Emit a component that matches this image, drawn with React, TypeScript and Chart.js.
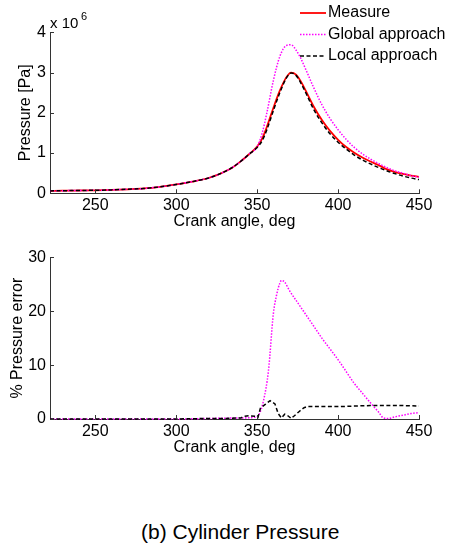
import React, { useEffect, useRef } from "react";
import { Chart, registerables } from "chart.js";

Chart.register(...registerables);

const FONT = "'Liberation Sans', Arial, Helvetica, sans-serif";

// ---------- data (pressure in units of 10^6 Pa) ----------
const angles = [222, 230, 240, 250, 260, 270, 280, 290, 300, 310, 320, 325, 330, 335, 340, 345, 350, 353, 356, 360, 364, 368, 371, 374, 377, 380, 385, 390, 395, 400, 405, 410, 415, 420, 425, 430, 435, 440, 445, 450];
const measure = [0.06, 0.065, 0.07, 0.075, 0.085, 0.1, 0.12, 0.16, 0.22, 0.29, 0.38, 0.45, 0.54, 0.65, 0.8, 0.97, 1.16, 1.35, 1.65, 2.12, 2.55, 2.88, 3.0, 2.95, 2.78, 2.55, 2.15, 1.82, 1.55, 1.33, 1.15, 1.01, 0.89, 0.79, 0.7, 0.6, 0.53, 0.48, 0.44, 0.41];
const globalApproach = [0.06, 0.065, 0.07, 0.075, 0.085, 0.1, 0.12, 0.16, 0.22, 0.29, 0.38, 0.45, 0.54, 0.65, 0.8, 0.97, 1.16, 1.48, 2.0, 2.8, 3.4, 3.67, 3.69, 3.56, 3.35, 3.08, 2.62, 2.2, 1.86, 1.58, 1.34, 1.14, 0.98, 0.85, 0.74, 0.64, 0.56, 0.5, 0.44, 0.4];
const localApproach = [0.06, 0.065, 0.07, 0.075, 0.085, 0.1, 0.12, 0.16, 0.22, 0.29, 0.38, 0.45, 0.54, 0.65, 0.8, 0.97, 1.14, 1.3, 1.58, 2.05, 2.5, 2.86, 2.99, 2.93, 2.74, 2.5, 2.08, 1.75, 1.48, 1.27, 1.1, 0.95, 0.83, 0.73, 0.64, 0.56, 0.49, 0.43, 0.38, 0.34];

const globalErrAngles = [222, 250, 300, 320, 340, 348, 351, 354, 357, 360, 362, 364, 365, 367, 370, 375, 380, 385, 390, 395, 400, 405, 410, 415, 420, 425, 428, 431, 435, 440, 445, 450];
const globalErr = [0, 0, 0, 0.1, 0.2, 0.3, 0.8, 3.5, 9, 19.5, 23, 25.2, 25.7, 25.4, 23.8, 21.6, 19.4, 17.2, 15.0, 13.0, 11.0, 8.8, 6.6, 4.8, 3.0, 1.3, 0.2, 0.1, 0.4, 0.7, 1.0, 1.2];
const localErrAngles = [222, 250, 300, 320, 330, 340, 342, 345, 349, 350.5, 352, 355, 358, 361, 363, 365, 367, 369, 371, 373, 376, 379, 381, 390, 400, 410, 420, 430, 440, 450];
const localErr = [0, 0, 0, 0.1, 0.1, 0.2, 0.5, 0.6, 0.5, 0.3, 2.0, 2.7, 3.4, 2.8, 1.0, 0.2, 0.9, 0.6, 0.1, 0.6, 1.4, 2.1, 2.3, 2.3, 2.3, 2.4, 2.5, 2.5, 2.5, 2.4];

const xTicks = [250, 300, 350, 400, 450];
const pressureTicks = [0, 1, 2, 3, 4];
const errorTicks = [0, 10, 20, 30];
const seriesNames = ["Measure", "Global approach", "Local approach"];
const xTitle = "Crank angle, deg";

const RED = "#ff0000";
const MAGENTA = "#ff00ff";
const BLACK = "#000000";
const AXIS = "#333333";

const pts = (xs: number[], ys: number[]) => xs.map((x, i) => ({ x, y: ys[i] }));

const inwardTicks = {
  id: "inwardTicks",
  afterDatasetsDraw(chart: any) {
    const { ctx, chartArea } = chart;
    const xs = chart.scales.x;
    const ys = chart.scales.y;
    ctx.save();
    ctx.strokeStyle = AXIS;
    ctx.lineWidth = 1;
    ctx.setLineDash([]);
    ctx.beginPath();
    xs.ticks.forEach((t: any) => {
      const px = Math.round(xs.getPixelForValue(t.value)) + 0.5;
      ctx.moveTo(px, chartArea.bottom);
      ctx.lineTo(px, chartArea.bottom - 4);
    });
    ys.ticks.forEach((t: any) => {
      const py = Math.round(ys.getPixelForValue(t.value)) + 0.5;
      ctx.moveTo(chartArea.left, py);
      ctx.lineTo(chartArea.left + 4, py);
    });
    ctx.stroke();
    ctx.restore();
  },
};

const legendAndExponent = {
  id: "legendAndExponent",
  afterDraw(chart: any) {
    const { ctx } = chart;
    ctx.save();
    // exponent label
    ctx.fillStyle = "#000";
    ctx.textBaseline = "alphabetic";
    ctx.textAlign = "left";
    ctx.font = `15px ${FONT}`;
    ctx.fillText("x 10", 50, 28);
    ctx.font = `11px ${FONT}`;
    ctx.fillText("6", 81, 20);
    // legend
    const items = [
      { label: seriesNames[0], color: RED, dash: [] as number[], w: 1.8 },
      { label: seriesNames[1], color: MAGENTA, dash: [1.5, 1.5], w: 1.5 },
      { label: seriesNames[2], color: BLACK, dash: [4, 2.5], w: 1.5 },
    ];
    const ys = [13, 34.5, 56];
    items.forEach((it, i) => {
      ctx.beginPath();
      ctx.setLineDash(it.dash);
      ctx.strokeStyle = it.color;
      ctx.lineWidth = it.w;
      ctx.moveTo(300, ys[i]);
      ctx.lineTo(326, ys[i]);
      ctx.stroke();
      ctx.setLineDash([]);
      ctx.fillStyle = "#000";
      ctx.font = `16px ${FONT}`;
      ctx.textBaseline = "middle";
      ctx.fillText(it.label, 328, ys[i]);
    });
    ctx.restore();
  },
};

function makeOptions(cfg: {
  canvasH: number;
  areaTop: number;
  areaBottom: number;
  yMax: number;
  yTicks: number[];
  yTitle: string;
  yTitlePad: number;
  xTitlePad: number;
}) {
  return {
    responsive: false,
    animation: false as const,
    layout: { padding: { top: cfg.areaTop, right: 30, left: 0, bottom: 0 } },
    plugins: { legend: { display: false }, tooltip: { enabled: false } },
    elements: { point: { radius: 0 } },
    scales: {
      x: {
        type: "linear" as const,
        min: 222,
        max: 450,
        afterBuildTicks: (s: any) => {
          s.ticks = xTicks.map((v) => ({ value: v }));
        },
        afterFit: (s: any) => {
          s.height = cfg.canvasH - cfg.areaBottom;
        },
        grid: { display: false, drawTicks: false, tickLength: 0 },
        border: { display: true, color: AXIS, width: 1 },
        ticks: {
          color: "#000",
          font: { family: FONT, size: 16, lineHeight: 1.2 },
          padding: 3,
          maxRotation: 0,
          autoSkip: false,
          callback: (v: any) => String(v),
        },
        title: {
          display: true,
          text: xTitle,
          color: "#000",
          font: { family: FONT, size: 16, lineHeight: 1.2 },
          padding: { top: 0, bottom: cfg.xTitlePad },
        },
      },
      y: {
        type: "linear" as const,
        min: 0,
        max: cfg.yMax,
        afterBuildTicks: (s: any) => {
          s.ticks = cfg.yTicks.map((v) => ({ value: v }));
        },
        afterFit: (s: any) => {
          s.width = 50;
        },
        grid: { display: false, drawTicks: false, tickLength: 0 },
        border: { display: true, color: AXIS, width: 1 },
        ticks: {
          color: "#000",
          font: { family: FONT, size: 16, lineHeight: 1.2 },
          padding: 4,
          callback: (v: any) => String(v),
        },
        title: {
          display: true,
          text: cfg.yTitle,
          color: "#000",
          font: { family: FONT, size: 16, lineHeight: 1.2 },
          padding: { top: cfg.yTitlePad, bottom: 0 },
        },
      },
    },
  };
}

export default function App() {
  const topRef = useRef<HTMLCanvasElement | null>(null);
  const botRef = useRef<HTMLCanvasElement | null>(null);

  useEffect(() => {
    if (!topRef.current || !botRef.current) return;
    const top = new Chart(topRef.current, {
      type: "line",
      data: {
        datasets: [
          {
            label: seriesNames[0],
            data: pts(angles, measure),
            borderColor: RED,
            borderWidth: 1.8,
            cubicInterpolationMode: "monotone",
            order: 2,
          },
          {
            label: seriesNames[1],
            data: pts(angles, globalApproach),
            borderColor: MAGENTA,
            borderWidth: 1.5,
            borderDash: [1.5, 1.5],
            cubicInterpolationMode: "monotone",
            order: 1,
          },
          {
            label: seriesNames[2],
            data: pts(angles, localApproach),
            borderColor: BLACK,
            borderWidth: 1.5,
            borderDash: [4, 2.5],
            cubicInterpolationMode: "monotone",
            order: 0,
          },
        ],
      },
      options: makeOptions({
        canvasH: 240,
        areaTop: 32.3,
        areaBottom: 193.3,
        yMax: 4,
        yTicks: pressureTicks,
        yTitle: "Pressure [Pa]",
        yTitlePad: 16.4,
        xTitlePad: 8.4,
      }) as any,
      plugins: [inwardTicks, legendAndExponent],
    });

    const bot = new Chart(botRef.current, {
      type: "line",
      data: {
        datasets: [
          {
            label: seriesNames[1],
            data: pts(globalErrAngles, globalErr),
            borderColor: MAGENTA,
            borderWidth: 1.5,
            borderDash: [1.5, 1.5],
            cubicInterpolationMode: "monotone",
            clip: false as any,
            order: 1,
          },
          {
            label: seriesNames[2],
            data: pts(localErrAngles, localErr),
            borderColor: BLACK,
            borderWidth: 1.5,
            borderDash: [4, 2.5],
            tension: 0,
            clip: false as any,
            order: 0,
          },
        ],
      },
      options: makeOptions({
        canvasH: 230,
        areaTop: 17.3,
        areaBottom: 179,
        yMax: 30,
        yTicks: errorTicks,
        yTitle: "% Pressure error",
        yTitlePad: 7.9,
        xTitlePad: 12.4,
      }) as any,
      plugins: [inwardTicks],
    });

    return () => {
      top.destroy();
      bot.destroy();
    };
  }, []);

  return (
    <div
      style={{
        position: "absolute",
        left: 0,
        top: 0,
        width: 449,
        height: 548,
        background: "#fff",
        overflow: "hidden",
      }}
    >
      <canvas
        ref={topRef}
        width={449}
        height={240}
        style={{ position: "absolute", left: 0, top: 0, width: 449, height: 240 }}
      />
      <canvas
        ref={botRef}
        width={449}
        height={230}
        style={{ position: "absolute", left: 0, top: 240, width: 449, height: 230 }}
      />
      <div
        style={{
          position: "absolute",
          left: 141,
          top: 520,
          fontFamily: FONT,
          fontSize: 21,
          lineHeight: "24px",
          whiteSpace: "nowrap",
          color: "#000",
        }}
      >
        (b) Cylinder Pressure
      </div>
    </div>
  );
}
